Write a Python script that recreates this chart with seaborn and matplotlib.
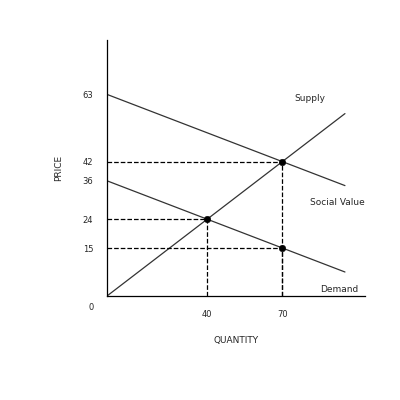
import numpy as np
import pandas as pd
import matplotlib
matplotlib.use("Agg")
import matplotlib.pyplot as plt
import seaborn as sns

# curve end points (quantity, price)
quantity = [0, 95]
supply = [0, 57]
social_value = [63, 34.5]
demand = [36, 7.5]

# equilibrium points
point_q = [70, 40, 70]
point_p = [42, 24, 15]

x_ticks = [40, 70]
y_ticks = [15, 24, 36, 42, 63]

sns.set_style("white")
plt.rcParams['font.family'] = ['DejaVu Sans']

fig = plt.figure(figsize=(4, 4), dpi=100)
ax = fig.add_axes([0.2675, 0.26, 0.645, 0.64])

df = pd.DataFrame({"q": quantity, "supply": supply, "social": social_value, "demand": demand})
for col in ["supply", "social", "demand"]:
    sns.lineplot(data=df, x="q", y=col, ax=ax, color="#333333", linewidth=0.9)

for q, p in zip(point_q, point_p):
    ax.plot([0, q], [p, p], color="black", linestyle="--", linewidth=0.9)
    ax.plot([q, q], [0, p], color="black", linestyle="--", linewidth=0.9)
sns.scatterplot(x=point_q, y=point_p, ax=ax, color="black", s=22, zorder=5, edgecolor="black")

ax.set_xlim(0, 103)
ax.set_ylim(0, 80)
ax.set_xticks(x_ticks)
ax.set_yticks(y_ticks)
ax.tick_params(axis="both", length=0, labelsize=6, pad=10)
ax.set_xlabel("QUANTITY", fontsize=6.5, labelpad=12)
ax.set_ylabel("PRICE", fontsize=6.5, labelpad=14)
for s in ["top", "right"]:
    ax.spines[s].set_visible(False)
for s in ["left", "bottom"]:
    ax.spines[s].set_color("black")
    ax.spines[s].set_linewidth(0.9)

ax.text(-6.5, -3.5, "0", fontsize=6, ha="center", va="center")
ax.text(75, 61, "Supply", fontsize=6.5)
ax.text(81, 28.5, "Social Value", fontsize=6.5)
ax.text(85, 1.2, "Demand", fontsize=6.5)

fig.savefig("out.png", dpi=100)
